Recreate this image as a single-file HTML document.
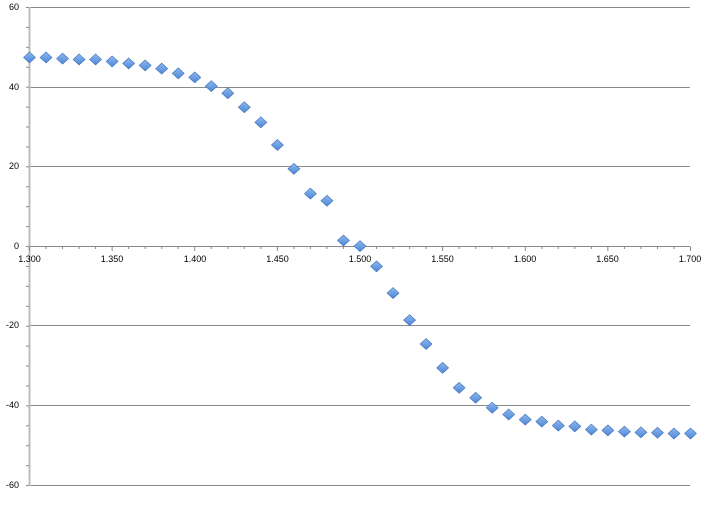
<!DOCTYPE html>
<html><head><meta charset="utf-8"><style>
html,body{margin:0;padding:0;background:#fff;}
svg text{font-family:"Liberation Sans",sans-serif;font-size:9px;fill:#000;}
</style></head><body>
<svg id="s" width="728" height="518" xmlns="http://www.w3.org/2000/svg">
<defs>
<linearGradient id="g" x1="0" y1="0" x2="0" y2="1">
<stop offset="0" stop-color="#8db8ee"/><stop offset="1" stop-color="#4f87d6"/>
</linearGradient>
</defs>
<g stroke="#8a8a8a" stroke-width="1">
<line x1="30" y1="7.5" x2="690" y2="7.5"/>
<line x1="30" y1="87.5" x2="690" y2="87.5"/>
<line x1="30" y1="166.5" x2="690" y2="166.5"/>
<line x1="30" y1="325.5" x2="690" y2="325.5"/>
<line x1="30" y1="405.5" x2="690" y2="405.5"/>
<line x1="30" y1="485.5" x2="690" y2="485.5"/>
<line x1="30" y1="246.5" x2="690" y2="246.5"/>
</g>
<line x1="29.5" y1="7" x2="29.5" y2="486" stroke="#bdbdbd" stroke-width="2"/>
<g id="ticks" stroke="#888" stroke-width="1"></g>
<g text-anchor="end">
<text x="19" y="10">60</text>
<text x="19" y="90">40</text>
<text x="19" y="169">20</text>
<text x="19" y="249">0</text>
<text x="19" y="328">-20</text>
<text x="19" y="408">-40</text>
<text x="19" y="488">-60</text>
</g>
<g text-anchor="middle">
<text x="29.5" y="262">1.300</text>
<text x="112" y="262">1.350</text>
<text x="195" y="262">1.400</text>
<text x="277.5" y="262">1.450</text>
<text x="360" y="262">1.500</text>
<text x="442.5" y="262">1.550</text>
<text x="525" y="262">1.600</text>
<text x="607.5" y="262">1.650</text>
<text x="690" y="262">1.700</text>
</g>
<g id="pts"></g>
</svg>
<script>
var ns="http://www.w3.org/2000/svg";
var t=document.getElementById("ticks");
function L(x1,y1,x2,y2){var l=document.createElementNS(ns,"line");l.setAttribute("x1",x1);l.setAttribute("y1",y1);l.setAttribute("x2",x2);l.setAttribute("y2",y2);t.appendChild(l);}
for(var i=0;i<=24;i++){var y=7.5+i*19.92;L(26,y,29,y);}
for(var i=0;i<=40;i++){var x=29.5+i*16.525;var big=(i%5==0);L(x,246.5,x,big?251:249);}
var v=[47.5,47.5,47.2,47,47,46.5,46,45.5,44.7,43.5,42.5,40.3,38.5,35,31.2,25.5,19.5,13.3,11.5,1.5,0.1,-5,-11.7,-18.5,-24.5,-30.5,-35.5,-38,-40.5,-42.2,-43.5,-44,-45,-45.2,-46,-46.2,-46.5,-46.7,-46.8,-47,-47];
var p=document.getElementById("pts");
for(var i=0;i<v.length;i++){var x=29.5+i*16.525,y=246.5-v[i]*3.98;
var s=document.createElementNS(ns,"polygon");
s.setAttribute("points",(x)+","+(y-5.5)+" "+(x+6)+","+y+" "+x+","+(y+5.5)+" "+(x-6)+","+y);
s.setAttribute("fill","url(#g)");s.setAttribute("stroke","#3d6fb8");s.setAttribute("stroke-width","0.6");p.appendChild(s);}
</script>
</body></html>
